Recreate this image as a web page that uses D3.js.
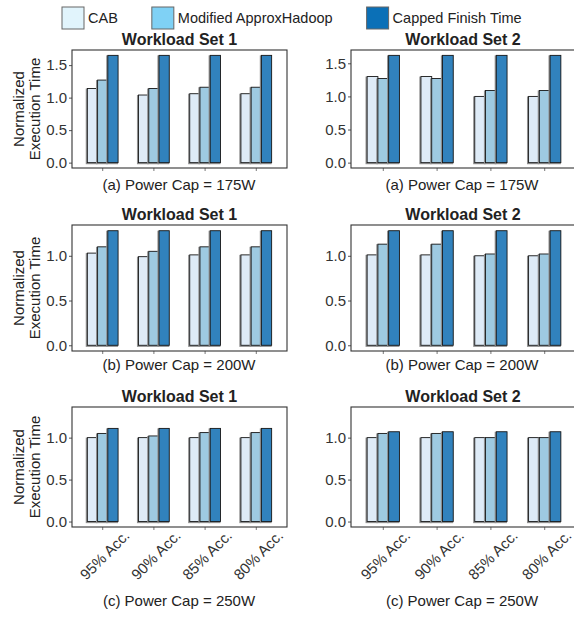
<!DOCTYPE html>
<html>
<head>
<meta charset="utf-8">
<script src="https://cdn.jsdelivr.net/npm/d3@7"></script>
<style>
  body { margin: 0; background: #fff; }
  svg { display: block; font-family: "Liberation Sans", Arial, sans-serif; }
</style>
</head>
<body>
<svg id="chart" width="574" height="622"></svg>
<script>
// data
var categories = ["95% Acc.", "90% Acc.", "85% Acc.", "80% Acc."];
var seriesNames = ["CAB", "Modified ApproxHadoop", "Capped Finish Time"];
var yTicks = [0, 0.5, 1.0, 1.5];

// each panel: [CAB, Modified ApproxHadoop, Capped Finish Time]
var set1Cap175 = [[1.14, 1.04, 1.06, 1.06], [1.27, 1.14, 1.16, 1.16], [1.65, 1.65, 1.65, 1.65]];
var set2Cap175 = [[1.30, 1.30, 1.00, 1.00], [1.27, 1.27, 1.09, 1.09], [1.62, 1.62, 1.62, 1.62]];
var set1Cap200 = [[1.03, 0.99, 1.01, 1.01], [1.10, 1.05, 1.10, 1.10], [1.28, 1.28, 1.28, 1.28]];
var set2Cap200 = [[1.01, 1.01, 1.00, 1.00], [1.13, 1.13, 1.02, 1.02], [1.28, 1.28, 1.28, 1.28]];
var set1Cap250 = [[1.00, 1.00, 1.00, 1.00], [1.05, 1.02, 1.06, 1.06], [1.11, 1.11, 1.11, 1.11]];
var set2Cap250 = [[1.00, 1.00, 1.00, 1.00], [1.05, 1.05, 1.00, 1.00], [1.07, 1.07, 1.07, 1.07]];

var titles = ["Workload Set 1", "Workload Set 2"];
var captions = ["(a) Power Cap = 175W", "(b) Power Cap = 200W", "(c) Power Cap = 250W"];

var barColors = ["#deebf7", "#9ecae1", "#3182bd"];
var legendColors = ["#e1f4fc", "#7fd1f5", "#0b70b7"];

// layout
var cols = [{left: 72, right: 287}, {left: 351, right: 577}];
var rows = [
    {top: 50, bottom: 168, ymax: null, caption: 190},
    {top: 225, bottom: 351, ymax: null, caption: 370},
    {top: 407, bottom: 527, ymax: 1.3, caption: 606}
];
var panelData = [
    [set1Cap175, set2Cap175],
    [set1Cap200, set2Cap200],
    [set1Cap250, set2Cap250]
];

var svg = d3.select("#chart");

// legend
var legend = svg.append("g").attr("font-size", 14.5).attr("fill", "#222");
var lx = 62;
seriesNames.forEach(function (name, i) {
    legend.append("rect")
        .attr("x", lx).attr("y", 7)
        .attr("width", 22).attr("height", 22)
        .attr("fill", legendColors[i])
        .attr("stroke", "#666").attr("stroke-width", 1);
    var t = legend.append("text")
        .attr("x", lx + 26).attr("y", 23)
        .text(name);
    lx += 26 + t.node().getComputedTextLength() + 34;
});

rows.forEach(function (row, r) {
    cols.forEach(function (col, c) {
        var values = panelData[r][c];
        var ymax = row.ymax || d3.max(values, function (s) { return d3.max(s); });

        var y = d3.scaleLinear()
            .domain([-0.05 * ymax, 1.05 * ymax])
            .range([row.bottom, row.top]);

        var x0 = d3.scaleBand()
            .domain(categories)
            .range([col.left, col.right])
            .paddingInner(0.4)
            .paddingOuter(0.3);

        var x1 = d3.scaleBand()
            .domain(d3.range(seriesNames.length))
            .range([0, x0.bandwidth()]);

        var g = svg.append("g");

        // y axis
        g.append("g")
            .attr("transform", "translate(" + col.left + ",0)")
            .call(d3.axisLeft(y)
                .tickValues(yTicks.filter(function (v) { return v <= 1.05 * ymax; }))
                .tickFormat(d3.format(".1f"))
                .tickSize(3)
                .tickPadding(2))
            .call(function (a) { a.select(".domain").remove(); })
            .call(function (a) {
                a.selectAll(".tick line").attr("stroke", "#555");
                a.selectAll(".tick text")
                    .attr("fill", "#333")
                    .attr("font-size", 15)
                    .attr("font-family", "Liberation Sans, Arial, sans-serif");
            });

        // x ticks
        g.append("g")
            .attr("transform", "translate(0," + row.bottom + ")")
            .call(d3.axisBottom(x0).tickSize(3).tickFormat(""))
            .call(function (a) { a.select(".domain").remove(); })
            .call(function (a) { a.selectAll(".tick line").attr("stroke", "#777"); });

        // bars
        var groups = g.append("g")
            .selectAll("g")
            .data(categories)
            .join("g")
            .attr("transform", function (d) { return "translate(" + x0(d) + ",0)"; });

        var bars = groups.selectAll("g")
            .data(function (d, i) {
                return values.map(function (s, k) { return {k: k, v: s[i]}; });
            })
            .join("g");

        // grey shadow edge
        bars.append("rect")
            .attr("x", function (d) { return x1(d.k) - 0.8; })
            .attr("y", function (d) { return y(d.v) + 0.8; })
            .attr("width", x1.bandwidth())
            .attr("height", function (d) { return y(0) - y(d.v); })
            .attr("fill", function (d) { return barColors[d.k]; })
            .attr("stroke", "#8f8f8f")
            .attr("stroke-width", 1.6);

        bars.append("rect")
            .attr("x", function (d) { return x1(d.k); })
            .attr("y", function (d) { return y(d.v); })
            .attr("width", x1.bandwidth())
            .attr("height", function (d) { return y(0) - y(d.v); })
            .attr("fill", function (d) { return barColors[d.k]; })
            .attr("stroke", "#1a1a1a")
            .attr("stroke-width", 0.9);

        // panel frame
        g.append("rect")
            .attr("x", col.left).attr("y", row.top)
            .attr("width", col.right - col.left)
            .attr("height", row.bottom - row.top)
            .attr("fill", "none")
            .attr("stroke", "#333")
            .attr("stroke-width", 1.1);

        // title
        g.append("text")
            .attr("x", (col.left + col.right) / 2 - (c == 1 ? 1 : 0))
            .attr("y", row.top - 5)
            .attr("text-anchor", "middle")
            .attr("font-size", 16)
            .attr("font-weight", "bold")
            .attr("fill", "#222")
            .text(titles[c]);

        // caption
        g.append("text")
            .attr("x", c == 0 ? 179 : 462)
            .attr("y", row.caption)
            .attr("text-anchor", "middle")
            .attr("font-size", 15)
            .attr("fill", "#222")
            .text(captions[r]);

        // y title on left column
        if (c == 0) {
            var yt = g.append("text")
                .attr("transform", "translate(0," + (row.top + row.bottom) / 2 + ") rotate(-90)")
                .attr("text-anchor", "middle")
                .attr("font-size", 15)
                .attr("fill", "#222");
            yt.append("tspan").attr("x", 0).attr("y", 24).text("Normalized");
            yt.append("tspan").attr("x", 0).attr("y", 40).text("Execution Time");
        }

        // category labels only on the bottom row
        if (r == rows.length - 1) {
            g.append("g")
                .selectAll("text")
                .data(categories)
                .join("text")
                .attr("transform", function (d) {
                    return "translate(" + (x0(d) + x0.bandwidth() / 2 + 2) + "," + (row.bottom + 28) + ") rotate(-45)";
                })
                .attr("text-anchor", "middle")
                .attr("dy", "0.35em")
                .attr("font-size", 15)
                .attr("fill", "#333")
                .text(function (d) { return d; });
        }
    });
});
</script>
</body>
</html>
